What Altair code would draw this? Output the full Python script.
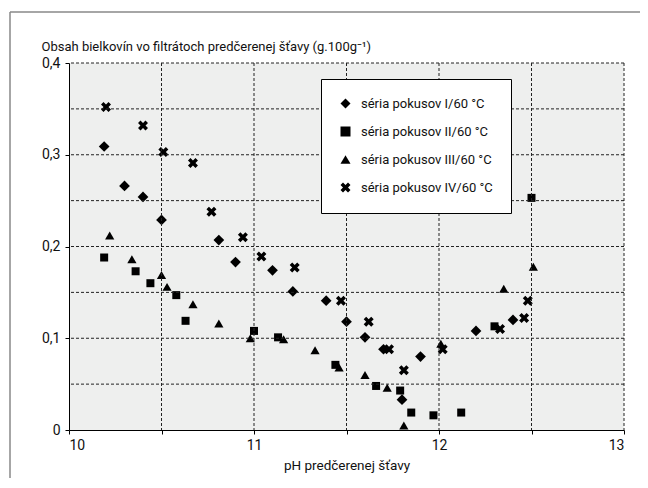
import altair as alt
import pandas as pd

series_names = ["séria pokusov I/60 °C", "séria pokusov II/60 °C",
                "séria pokusov III/60 °C", "séria pokusov IV/60 °C"]

ph_I = [10.19, 10.30, 10.40, 10.50, 10.81, 10.90, 11.10, 11.21, 11.39, 11.50, 11.60, 11.70, 11.80, 11.90, 12.20, 12.40]
val_I = [0.309, 0.266, 0.254, 0.229, 0.207, 0.183, 0.174, 0.151, 0.141, 0.118, 0.101, 0.088, 0.033, 0.080, 0.108, 0.120]

ph_II = [10.19, 10.36, 10.44, 10.58, 10.63, 11.00, 11.13, 11.44, 11.66, 11.79, 11.85, 11.97, 12.12, 12.30, 12.50]
val_II = [0.188, 0.173, 0.160, 0.147, 0.119, 0.108, 0.101, 0.071, 0.048, 0.043, 0.019, 0.016, 0.019, 0.113, 0.253]

ph_III = [10.22, 10.34, 10.50, 10.53, 10.67, 10.81, 10.98, 11.16, 11.33, 11.46, 11.60, 11.72, 11.81, 12.01, 12.35, 12.51]
val_III = [0.212, 0.186, 0.169, 0.156, 0.137, 0.116, 0.100, 0.099, 0.087, 0.068, 0.060, 0.046, 0.005, 0.094, 0.154, 0.178]

ph_IV = [10.20, 10.40, 10.51, 10.67, 10.77, 10.94, 11.04, 11.22, 11.47, 11.62, 11.73, 11.81, 12.02, 12.33, 12.46, 12.48]
val_IV = [0.352, 0.332, 0.303, 0.291, 0.238, 0.210, 0.189, 0.177, 0.141, 0.118, 0.088, 0.065, 0.088, 0.110, 0.122, 0.141]

x_ticks = [10, 10.5, 11, 11.5, 12, 12.5, 13]
y_ticks = [0, 0.1, 0.2, 0.3, 0.4]
h_grid = [0.05, 0.1, 0.15, 0.2, 0.25, 0.3, 0.35, 0.4]
v_grid = [10.5, 11, 11.5, 12, 12.5, 13]

rows = []
for name, xs, ys in zip(series_names, [ph_I, ph_II, ph_III, ph_IV], [val_I, val_II, val_III, val_IV]):
    for x, y in zip(xs, ys):
        rows.append({"series": name, "ph": x, "val": y})
df = pd.DataFrame(rows)

FONT = "Roboto"
X_PATH = ("M-1,-0.5 L-0.5,-1 L0,-0.5 L0.5,-1 L1,-0.5 L0.5,0 L1,0.5 "
          "L0.5,1 L0,0.5 L-0.5,1 L-1,0.5 L-0.5,0 Z")
marker_sizes = [115, 64, 85, 100]

xscale = alt.Scale(domain=[10, 13], nice=False, zero=False)
yscale = alt.Scale(domain=[0, 0.4], nice=False)

x_enc = alt.X("ph:Q", scale=xscale, title="pH predčerenej šťavy",
              axis=alt.Axis(values=x_ticks, grid=False, tickSize=4, labelPadding=4,
                            labelExpr="datum.value % 1 == 0 ? format(datum.value, 'd') : ''",
                            domainColor="black", tickColor="black", titlePadding=6,
                            titleFontSize=13.5))
y_enc = alt.Y("val:Q", scale=yscale,
              title="Obsah bielkovín vo filtrátoch predčerenej šťavy (g.100g⁻¹)",
              axis=alt.Axis(values=y_ticks, grid=False, tickSize=4, labelPadding=5,
                            labelExpr="datum.value == 0 ? '0' : replace(format(datum.value, '.1f'), '.', ',')",
                            domainColor="black", tickColor="black",
                            titleAngle=0, titleAlign="left", titleBaseline="alphabetic",
                            titleX=-28, titleY=-13, titleFontSize=13))
shape_enc = alt.Shape("series:N",
                      scale=alt.Scale(domain=series_names,
                                      range=["diamond", "square", "triangle-up", X_PATH]),
                      legend=alt.Legend(title=None, orient="none", legendX=252, legendY=16,
                                        padding=18, fillColor="white", strokeColor="black",
                                        rowPadding=14, labelFontSize=13, labelOffset=9,
                                        symbolSize=100, symbolFillColor="black",
                                        symbolStrokeColor="black", symbolStrokeWidth=0,
                                        labelFont=FONT, labelColor="#111", labelLimit=0))

point_layers = []
for name, sz in zip(series_names, marker_sizes):
    point_layers.append(
        alt.Chart(df).transform_filter(alt.datum.series == name)
        .mark_point(filled=True, opacity=1, color="black", size=sz, strokeWidth=0)
        .encode(x=x_enc, y=y_enc, shape=shape_enc)
    )

hgrid = alt.Chart(pd.DataFrame({"val": h_grid})).mark_rule(
    color="#222", strokeDash=[3, 2], strokeWidth=1
).encode(y=alt.Y("val:Q", scale=yscale))

vgrid = alt.Chart(pd.DataFrame({"ph": v_grid})).mark_rule(
    color="#222", strokeDash=[3, 2], strokeWidth=1
).encode(x=alt.X("ph:Q", scale=xscale))

frame_top = alt.Chart(pd.DataFrame({"a": [0]})).mark_rule(color="#888", strokeWidth=1.5).encode(
    x=alt.value(-59), x2=alt.value(700), y=alt.value(-51))
frame_left = alt.Chart(pd.DataFrame({"a": [0]})).mark_rule(color="#888", strokeWidth=1.5).encode(
    x=alt.value(-59), y=alt.value(-51), y2=alt.value(500))

chart = alt.layer(*point_layers, hgrid, vgrid, frame_top, frame_left).properties(
    width=555, height=367,
    background="white",
    autosize=alt.AutoSizeParams(type="none"),
    padding={"left": 61, "top": 55, "right": 16, "bottom": 48},
).configure_view(
    fill="#eeefee", stroke=None
).configure_axis(
    labelFont=FONT, titleFont=FONT, labelFontSize=14, titleFontSize=14,
    labelColor="#111", titleColor="#111", titleFontWeight="normal"
)

chart.save("out.html", embed_options={"renderer": "svg", "actions": False})
